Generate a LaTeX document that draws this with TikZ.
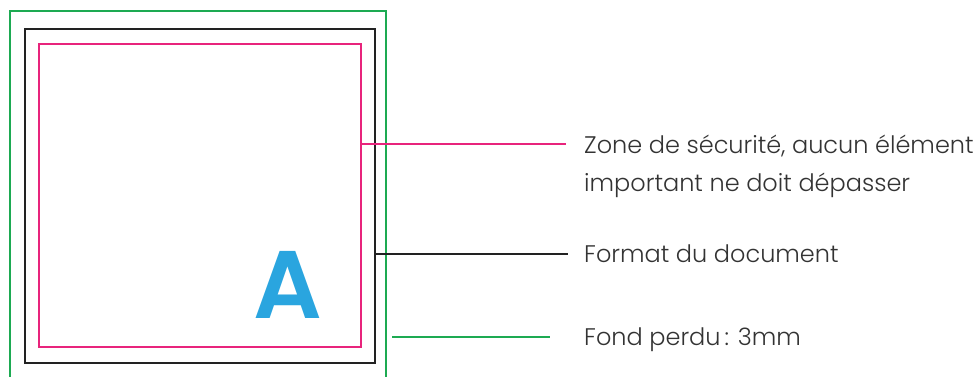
\documentclass[tikz,border=0pt]{standalone}
\usepackage{fontspec}
\setmainfont{Poppins}[UprightFont=* Light,BoldFont=* SemiBold]
\definecolor{bleedgreen}{HTML}{1DAA52}
\definecolor{safepink}{HTML}{E8247C}
\definecolor{docblack}{HTML}{222222}
\definecolor{letterblue}{HTML}{2AA5DF}
\definecolor{textgray}{HTML}{333333}
\begin{document}
\begin{tikzpicture}[x=1pt,y=-1pt]
\tikzset{
  legend/.style={anchor=base west,inner sep=0pt,text=textgray,font=\fontsize{24}{28}\selectfont},
}
\useasboundingbox (0,0) rectangle (978,376);
\clip (0,0) rectangle (978,376);

% fond perdu
\draw[bleedgreen,line width=2.6pt] (10,11) rectangle (386,400);
% format
\draw[docblack,line width=2.8pt] (25,29) rectangle (375,363);
% zone de securite
\draw[safepink,line width=2.6pt] (39,44) rectangle (361,347);

\node[text=letterblue,font=\fontsize{96}{96}\selectfont\bfseries,inner sep=0pt] (lettre) at (288,285) {A};

\coordinate (p1) at (361,144);
\coordinate (p2) at (566,144);
\coordinate (b1) at (376,254);
\coordinate (b2) at (568,254);
\coordinate (g1) at (392,337);
\coordinate (g2) at (550,337);

\draw[safepink,line width=2.4pt] (p1) -- (p2);
\draw[docblack,line width=2.4pt] (b1) -- (b2);
\draw[bleedgreen,line width=2.4pt] (g1) -- (g2);

\node[legend] (zone)   at (584,153) {Zone de sécurité, aucun élément};
\node[legend] (zone2)  at (584,191) {important ne doit dépasser};
\node[legend] (format) at (584,262) {Format du document};
\node[legend] (fond)   at (584,345) {Fond perdu\,: 3mm};

\end{tikzpicture}
\end{document}
